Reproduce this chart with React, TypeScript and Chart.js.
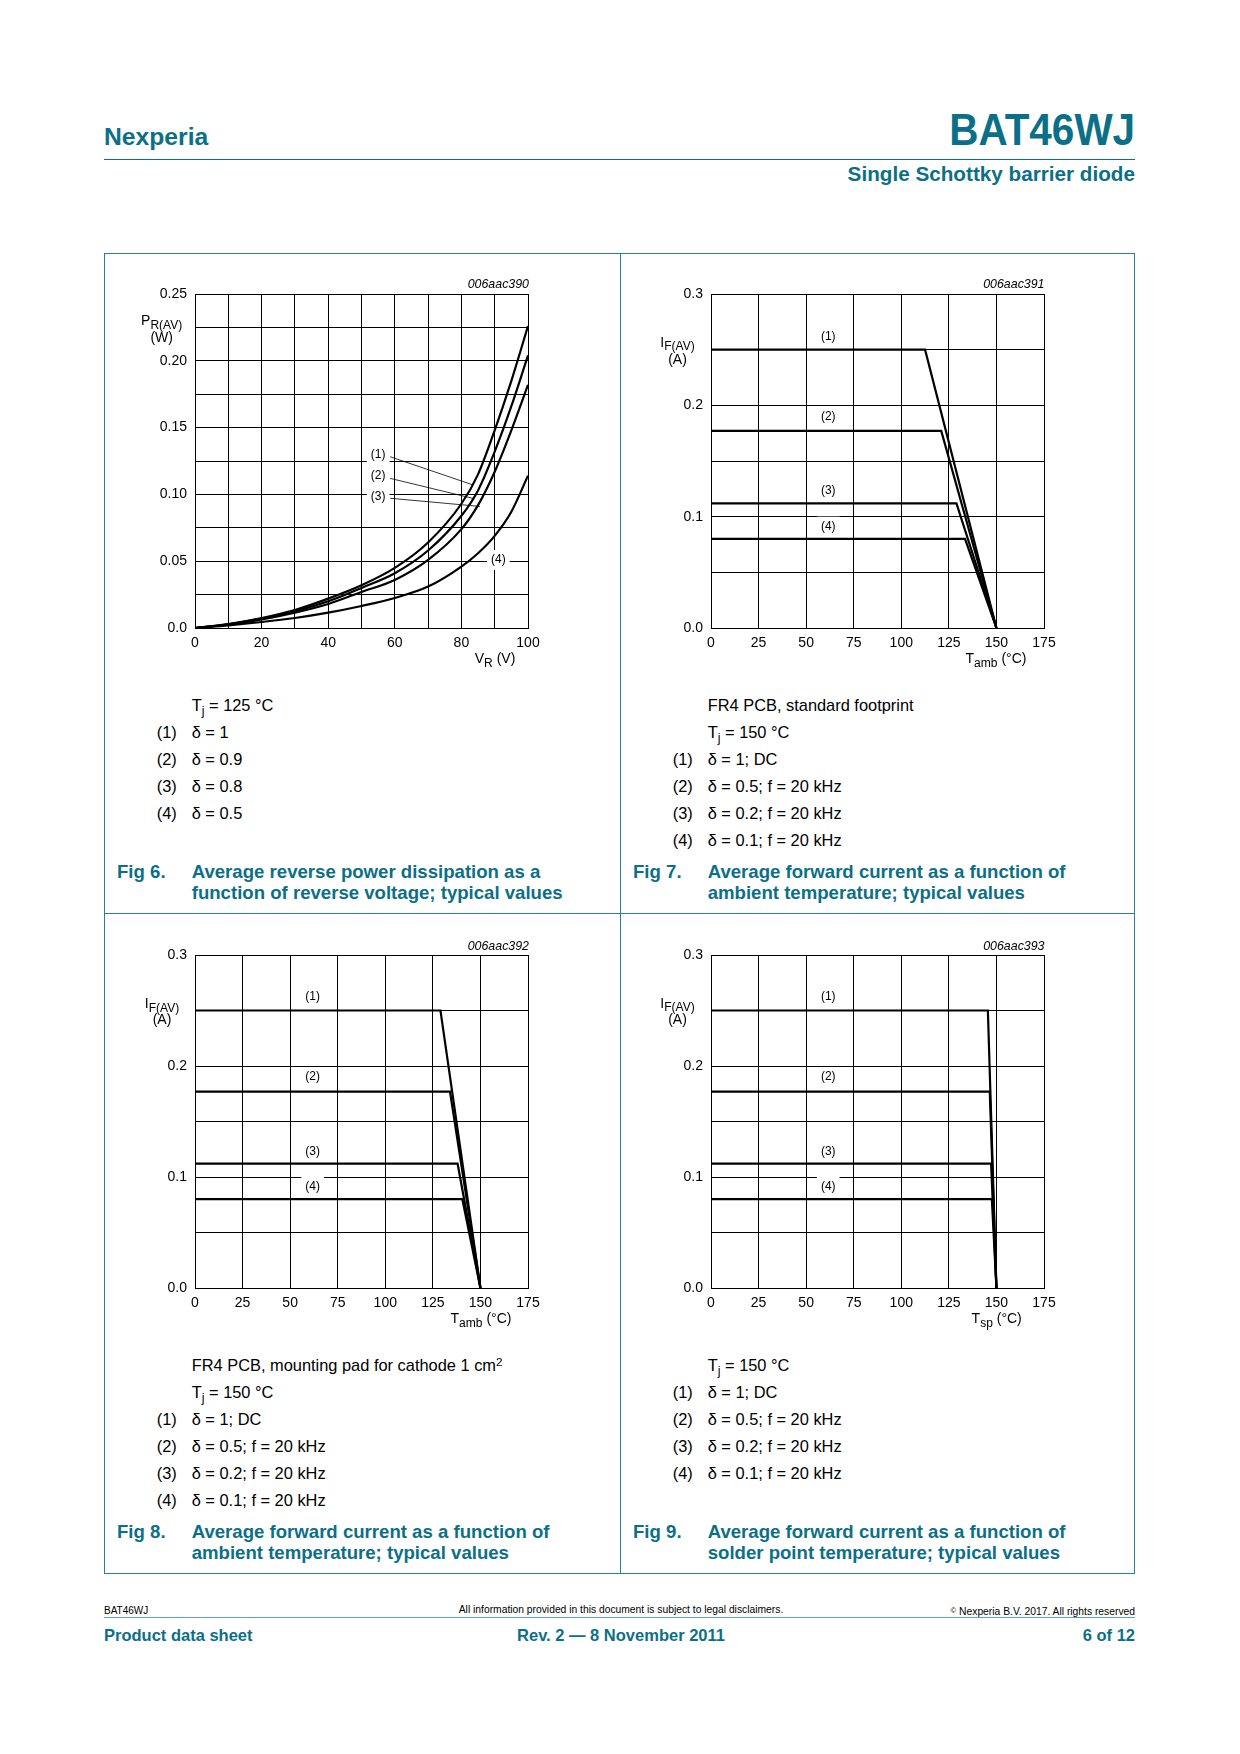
import React, { useEffect, useRef } from 'react';
import { Chart, registerables } from 'chart.js';

Chart.register(...registerables);

const FONT = '"Liberation Sans", Arial, Helvetica, sans-serif';
const TEAL = '#0c6f88';
const FRAME = '#2a7f95';
const FOOTLINE = '#57a8ba';
const BODY = 16.4;

// ---------- Fig 6 : P_R(AV) vs V_R ----------
const fig6VR = [0, 10, 20, 30, 40, 50, 60, 70, 80, 85, 90, 95, 100];
const fig6P1 = [0, 0.003, 0.0075, 0.0135, 0.022, 0.032, 0.045, 0.064, 0.093, 0.115, 0.148, 0.185, 0.226];
const fig6P2 = [0, 0.0028, 0.007, 0.0125, 0.02, 0.03, 0.041, 0.058, 0.084, 0.103, 0.132, 0.166, 0.204];
const fig6P3 = [0, 0.0025, 0.0065, 0.0115, 0.018, 0.027, 0.036, 0.051, 0.074, 0.092, 0.117, 0.148, 0.182];
const fig6P4 = [0, 0.002, 0.0045, 0.0075, 0.0115, 0.0165, 0.0225, 0.031, 0.046, 0.056, 0.069, 0.087, 0.114];
const fig6LabelText = ['(1)', '(2)', '(3)', '(4)'];
const fig6LabelX = [55, 55, 55, 91.1];
const fig6LabelY = [0.13, 0.114, 0.0983, 0.0509];
const fig6LeaderX0 = [58.6, 58.6, 58.6];
const fig6LeaderY0 = [0.1282, 0.112, 0.0971];
const fig6LeaderX1 = [83.6, 83.5, 85.6];
const fig6LeaderY1 = [0.107, 0.097, 0.091];

// ---------- Fig 7 : I_F(AV) vs T_amb (standard footprint) ----------
const fig7T = [[0, 112.5, 150], [0, 121, 150], [0, 129, 150], [0, 133.5, 150]];
const fig7I = [[0.25, 0.25, 0], [0.177, 0.177, 0], [0.112, 0.112, 0], [0.08, 0.08, 0]];
const fig7LabelX = [61.6, 61.6, 61.6, 61.6];

// ---------- Fig 8 : I_F(AV) vs T_amb (1 cm2 pad) ----------
const fig8T = [[0, 129, 150], [0, 134, 150], [0, 138, 150], [0, 140.5, 150]];
const fig8I = [[0.25, 0.25, 0], [0.177, 0.177, 0], [0.112, 0.112, 0], [0.08, 0.08, 0]];
const fig8LabelX = [61.8, 61.8, 61.8, 61.8];

// ---------- Fig 9 : I_F(AV) vs T_sp ----------
const fig9T = [[0, 145.5, 150], [0, 146.5, 150], [0, 147.2, 150], [0, 147.6, 150]];
const fig9I = [[0.25, 0.25, 0], [0.177, 0.177, 0], [0.112, 0.112, 0], [0.08, 0.08, 0]];
const fig9LabelX = [61.6, 61.6, 61.6, 61.6];

const ifLabelText = ['(1)', '(2)', '(3)', '(4)'];
const ifLabelY = [0.262, 0.19, 0.123, 0.091];

// ticks
const vrTicks = [0, 20, 40, 60, 80, 100];
const prTicks = ['0.0', '0.05', '0.10', '0.15', '0.20', '0.25'];
const tTicks = [0, 25, 50, 75, 100, 125, 150, 175];
const ifTicks = ['0.0', '0.1', '0.2', '0.3'];

const PL = 95, PT = 50, PR = 40, PB = 45;

type Label = { text: string; x: number; y: number };
type Leader = { x0: number; y0: number; x1: number; y1: number };

const labelPlugin = {
  id: 'curveLabels',
  beforeDatasetsDraw(chart: any, _args: any, opts: any) {
    const { ctx } = chart;
    const xs = chart.scales.x, ys = chart.scales.y;
    ctx.save();
    ctx.font = `12px ${FONT}`;
    ctx.textAlign = 'center';
    ctx.textBaseline = 'middle';
    for (const lb of (opts.labels || []) as Label[]) {
      const px = xs.getPixelForValue(lb.x);
      const py = ys.getPixelForValue(lb.y);
      const w = ctx.measureText(lb.text).width + 8;
      ctx.fillStyle = '#fff';
      ctx.fillRect(px - w / 2, py - 10, w, 20);
      ctx.fillStyle = '#000';
      ctx.fillText(lb.text, px, py);
    }
    ctx.strokeStyle = '#000';
    ctx.lineWidth = 0.8;
    for (const ld of (opts.leaders || []) as Leader[]) {
      ctx.beginPath();
      ctx.moveTo(xs.getPixelForValue(ld.x0), ys.getPixelForValue(ld.y0));
      ctx.lineTo(xs.getPixelForValue(ld.x1), ys.getPixelForValue(ld.y1));
      ctx.stroke();
    }
    ctx.restore();
  },
};

interface LineChartProps {
  plot: [number, number, number, number];
  xMax: number;
  xStep: number;
  xTickLabels: number[];
  yMax: number;
  yStep: number;
  yTickLabels: string[];
  yLabelEvery: number;
  xs: number[][];
  ys: number[][];
  smooth: boolean;
  labels: Label[];
  leaders: Leader[];
}

function LineChart(p: LineChartProps) {
  const ref = useRef<HTMLCanvasElement>(null);
  const [l, t, r, b] = p.plot;
  const W = r - l + PL + PR;
  const H = b - t + PT + PB;
  useEffect(() => {
    const tickFont = { family: FONT, size: 14 };
    const chart = new Chart(ref.current as HTMLCanvasElement, {
      type: 'line',
      data: {
        datasets: p.xs.map((xa, i) => ({
          data: xa.map((xv, j) => ({ x: xv, y: p.ys[i][j] })),
          borderColor: '#000',
          borderWidth: 2.2,
          pointRadius: 0,
          fill: false,
          tension: 0,
          cubicInterpolationMode: p.smooth ? 'monotone' : 'default',
        })),
      },
      options: {
        animation: false,
        responsive: false,
        devicePixelRatio: 1,
        events: [],
        layout: { padding: { left: 0, top: PT, right: PR, bottom: 0 } },
        plugins: {
          legend: { display: false },
          tooltip: { enabled: false },
          curveLabels: { labels: p.labels, leaders: p.leaders },
        } as any,
        scales: {
          x: {
            type: 'linear',
            min: 0,
            max: p.xMax,
            ticks: {
              stepSize: p.xStep,
              autoSkip: false,
              maxRotation: 0,
              padding: 7,
              color: '#000',
              font: tickFont,
              callback: (v: any) => {
                const idx = p.xTickLabels.findIndex((q) => Math.abs(q - Number(v)) < 1e-6);
                return idx >= 0 ? String(p.xTickLabels[idx]) : '';
              },
            },
            grid: { color: '#000', lineWidth: 1, drawTicks: false },
            border: { color: '#000', width: 1 },
            afterFit: (s: any) => { s.height = PB; },
          },
          y: {
            type: 'linear',
            min: 0,
            max: p.yMax,
            ticks: {
              stepSize: p.yStep,
              autoSkip: false,
              padding: 8,
              color: '#000',
              font: tickFont,
              callback: (v: any) => {
                const k = Math.round(Number(v) / p.yStep);
                return k % p.yLabelEvery === 0 ? p.yTickLabels[k / p.yLabelEvery] : '';
              },
            },
            grid: { color: '#000', lineWidth: 1, drawTicks: false },
            border: { color: '#000', width: 1 },
            afterFit: (s: any) => { s.width = PL; },
          },
        },
      } as any,
      plugins: [labelPlugin as any],
    });
    return () => chart.destroy();
  }, []);
  return (
    <canvas
      ref={ref}
      width={W}
      height={H}
      style={{ position: 'absolute', left: l - PL, top: t - PT, width: W, height: H }}
    />
  );
}

type TxtProps = {
  x: number;
  base: number;
  size: number;
  bold?: boolean;
  italic?: boolean;
  color?: string;
  align?: 'left' | 'right' | 'center';
  sx?: number;
  children: React.ReactNode;
};

function Txt({ x, base, size, bold, italic, color, align = 'left', sx, children }: TxtProps) {
  const style: React.CSSProperties = {
    position: 'absolute',
    top: base - 0.8465 * size,
    fontSize: size,
    lineHeight: `${size}px`,
    whiteSpace: 'nowrap',
    fontWeight: bold ? 700 : 400,
    fontStyle: italic ? 'italic' : 'normal',
    color: color || '#000',
    fontFamily: FONT,
  };
  const tr: string[] = [];
  if (align === 'left') style.left = x;
  if (align === 'right') style.right = 1240 - x;
  if (align === 'center') { style.left = x; tr.push('translateX(-50%)'); }
  if (sx) { tr.push(`scaleX(${sx})`); style.transformOrigin = align === 'right' ? 'right' : 'left'; }
  if (tr.length) style.transform = tr.join(' ');
  return <div style={style}>{children}</div>;
}

const Sub = ({ children, size = 0.86 }: { children: React.ReactNode; size?: number }) => (
  <span style={{ fontSize: `${size}em`, position: 'relative', top: '0.3em' }}>{children}</span>
);

function Line({ left, top, width, height, color }: { left: number; top: number; width: number; height: number; color: string }) {
  return <div style={{ position: 'absolute', left, top, width, height, background: color }} />;
}

function Legend({ x0, startBase, pre, items }: { x0: number; startBase: number; pre: React.ReactNode[]; items: React.ReactNode[] }) {
  const out: React.ReactNode[] = [];
  let base = startBase;
  pre.forEach((p, i) => {
    out.push(<Txt key={'p' + i} x={x0 + 87.7} base={base} size={BODY}>{p}</Txt>);
    base += 27;
  });
  items.forEach((it, i) => {
    out.push(<Txt key={'n' + i} x={x0 + 52.7} base={base} size={BODY}>{`(${i + 1})`}</Txt>);
    out.push(<Txt key={'t' + i} x={x0 + 87.7} base={base} size={BODY}>{it}</Txt>);
    base += 27;
  });
  return <>{out}</>;
}

function Caption({ x0, base, num, l1, l2 }: { x0: number; base: number; num: string; l1: string; l2: string }) {
  return (
    <>
      <Txt x={x0 + 13} base={base} size={18.6} bold color={TEAL}>{num}</Txt>
      <Txt x={x0 + 87.7} base={base} size={18.6} bold color={TEAL}>{l1}</Txt>
      <Txt x={x0 + 87.7} base={base + 21} size={18.6} bold color={TEAL}>{l2}</Txt>
    </>
  );
}

const Tj = ({ v }: { v: string }) => (<>T<Sub size={0.75}>j</Sub> = {v} °C</>);

const mkLabels = (texts: string[], xs: number[], ys: number[]): Label[] =>
  texts.map((t, i) => ({ text: t, x: xs[i], y: ys[i] }));

export default function App() {
  const fig6Leaders: Leader[] = fig6LeaderX0.map((x0, i) => ({
    x0, y0: fig6LeaderY0[i], x1: fig6LeaderX1[i], y1: fig6LeaderY1[i],
  }));
  const ifCommon = {
    xMax: 175, xStep: 25, xTickLabels: tTicks, yMax: 0.3, yStep: 0.05, yTickLabels: ifTicks, yLabelEvery: 2, smooth: false, leaders: [] as Leader[],
  };
  const items = ['δ = 1; DC', 'δ = 0.5; f = 20 kHz', 'δ = 0.2; f = 20 kHz', 'δ = 0.1; f = 20 kHz'];
  return (
    <div style={{ position: 'absolute', left: 0, top: 0, width: 1240, height: 1754, background: '#fff', fontFamily: FONT, color: '#000', overflow: 'hidden' }}>
      {/* header */}
      <Txt x={104} base={146} size={24.7} bold color={TEAL}>Nexperia</Txt>
      <Txt x={1135} base={145} size={44} bold color={TEAL} align="right" sx={0.92}>BAT46WJ</Txt>
      <Line left={104} top={159} width={1031} height={1} color={TEAL} />
      <Txt x={1135} base={182} size={20.7} bold color={TEAL} align="right">Single Schottky barrier diode</Txt>

      {/* frame */}
      <div style={{ position: 'absolute', left: 104, top: 253, width: 1031, height: 1321, border: `1px solid ${FRAME}`, boxSizing: 'border-box' }} />
      <Line left={620} top={253} width={1} height={1321} color={FRAME} />
      <Line left={104} top={913} width={1031} height={1} color={FRAME} />

      {/* Fig 6 */}
      <LineChart
        plot={[195, 294, 528, 628]}
        xMax={100} xStep={10} xTickLabels={vrTicks}
        yMax={0.25} yStep={0.025} yTickLabels={prTicks} yLabelEvery={2}
        xs={[fig6VR, fig6VR, fig6VR, fig6VR]}
        ys={[fig6P1, fig6P2, fig6P3, fig6P4]}
        smooth
        labels={mkLabels(fig6LabelText, fig6LabelX, fig6LabelY)}
        leaders={fig6Leaders}
      />
      <Txt x={529} base={288.7} size={12.4} italic align="right">006aac390</Txt>
      <Txt x={161.7} base={325} size={14} align="center">P<Sub>R(AV)</Sub></Txt>
      <Txt x={161.7} base={342} size={14} align="center">(W)</Txt>
      <Txt x={495} base={663.3} size={14} align="center">V<Sub>R</Sub> (V)</Txt>
      <Legend x0={104} startBase={710.7} pre={[<Tj v="125" />]} items={['δ = 1', 'δ = 0.9', 'δ = 0.8', 'δ = 0.5']} />
      <Caption x0={104} base={879} num="Fig 6." l1="Average reverse power dissipation as a" l2="function of reverse voltage; typical values" />

      {/* Fig 7 */}
      <LineChart
        plot={[711, 294, 1044, 628]}
        {...ifCommon}
        xs={fig7T} ys={fig7I}
        labels={mkLabels(ifLabelText, fig7LabelX, ifLabelY)}
      />
      <Txt x={1044.5} base={288.7} size={12.4} italic align="right">006aac391</Txt>
      <Txt x={677.5} base={346.7} size={14} align="center">I<Sub>F(AV)</Sub></Txt>
      <Txt x={677.5} base={364.3} size={14} align="center">(A)</Txt>
      <Txt x={996} base={663.3} size={14} align="center">T<Sub>amb</Sub> (°C)</Txt>
      <Legend x0={620} startBase={710.7} pre={['FR4 PCB, standard footprint', <Tj v="150" />]} items={items} />
      <Caption x0={620} base={879} num="Fig 7." l1="Average forward current as a function of" l2="ambient temperature; typical values" />

      {/* Fig 8 */}
      <LineChart
        plot={[195, 955, 528, 1288]}
        {...ifCommon}
        xs={fig8T} ys={fig8I}
        labels={mkLabels(ifLabelText, fig8LabelX, ifLabelY)}
      />
      <Txt x={529} base={950} size={12.4} italic align="right">006aac392</Txt>
      <Txt x={162} base={1008.3} size={14} align="center">I<Sub>F(AV)</Sub></Txt>
      <Txt x={162} base={1024.3} size={14} align="center">(A)</Txt>
      <Txt x={481} base={1323.3} size={14} align="center">T<Sub>amb</Sub> (°C)</Txt>
      <Legend x0={104} startBase={1370.7} pre={[<>FR4 PCB, mounting pad for cathode 1 cm<span style={{ fontSize: '0.72em', position: 'relative', top: '-0.45em' }}>2</span></>, <Tj v="150" />]} items={items} />
      <Caption x0={104} base={1538.6} num="Fig 8." l1="Average forward current as a function of" l2="ambient temperature; typical values" />

      {/* Fig 9 */}
      <LineChart
        plot={[711, 955, 1044, 1288]}
        {...ifCommon}
        xs={fig9T} ys={fig9I}
        labels={mkLabels(ifLabelText, fig9LabelX, ifLabelY)}
      />
      <Txt x={1044.5} base={950} size={12.4} italic align="right">006aac393</Txt>
      <Txt x={677.5} base={1007.5} size={14} align="center">I<Sub>F(AV)</Sub></Txt>
      <Txt x={677.5} base={1024.3} size={14} align="center">(A)</Txt>
      <Txt x={996.7} base={1323.3} size={14} align="center">T<Sub>sp</Sub> (°C)</Txt>
      <Legend x0={620} startBase={1370.7} pre={[<Tj v="150" />]} items={items} />
      <Caption x0={620} base={1538.6} num="Fig 9." l1="Average forward current as a function of" l2="solder point temperature; typical values" />

      {/* footer */}
      <Txt x={104} base={1614} size={10}>BAT46WJ</Txt>
      <Txt x={621} base={1614} size={10.3} align="center">All information provided in this document is subject to legal disclaimers.</Txt>
      <Txt x={1135} base={1616} size={10.3} align="right"><span style={{ fontSize: '0.75em', position: 'relative', top: '-0.35em' }}>©</span> Nexperia B.V. 2017. All rights reserved</Txt>
      <Line left={104} top={1617} width={1031} height={1} color={FOOTLINE} />
      <Txt x={104} base={1640.7} size={16.5} bold color={TEAL}>Product data sheet</Txt>
      <Txt x={621} base={1640.7} size={16.5} bold color={TEAL} align="center">Rev. 2 — 8 November 2011</Txt>
      <Txt x={1135} base={1640.7} size={16.5} bold color={TEAL} align="right">6 of 12</Txt>
    </div>
  );
}
